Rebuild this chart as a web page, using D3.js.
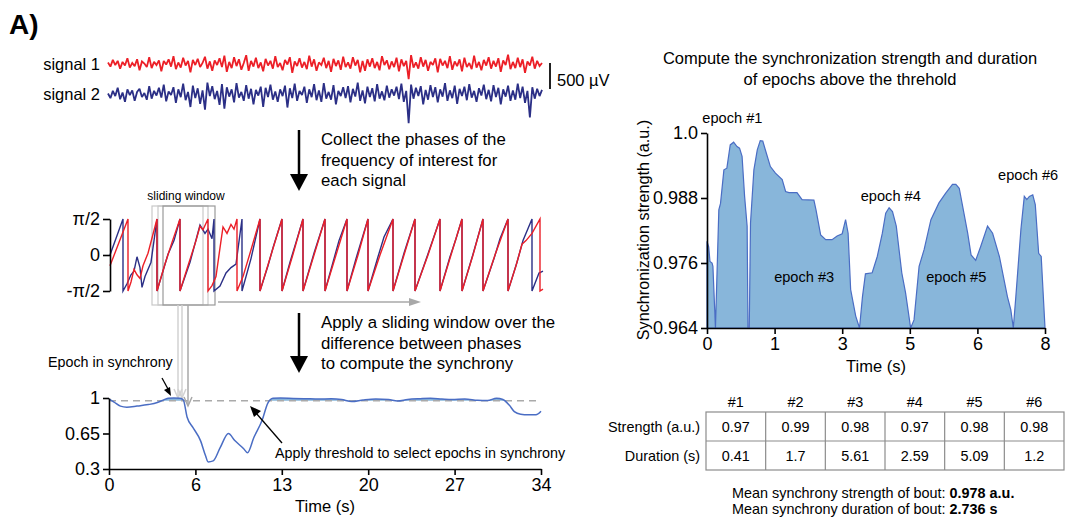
<!DOCTYPE html>
<html>
<head>
<meta charset="utf-8">
<script src="https://cdn.jsdelivr.net/npm/d3@7"></script>
<style>
  body { margin: 0; background: #fff; }
  svg { font-family: "Liberation Sans", Arial, sans-serif; }
</style>
</head>
<body>
<script>
// raw traces (µV), one sample per step
const signal1 = [
  30,-50,80,-20,60,-90,40,-30,110,-70,20,-40,90,-120,50,10,-60,130,-80,40,
  -20,70,-140,60,-10,90,-50,150,-100,30,-70,120,-30,60,-160,80,-20,100,-60,20,
  140,-90,50,-130,70,-20,110,-60,160,-150,40,-80,130,-40,90,-110,20,170,-130,60,
  -50,120,-80,30,-140,100,-30,60,-90,150,-60,20,-120,80,-10,130,-170,50,-40,110,
  -70,40,-100,160,-50,90,-130,30,-20,120,-80,60,-150,100,-40,70,-110,140,-60,30,
  -90,130,-30,80,-160,60,-130,90,-50,110,-80,40,-120,150,-20,70,-100,50,-60,120,
  -140,90,-40,60,-290,170,-70,30,-90,130,-50,80,-130,40,-20,110,-160,100,-30,60,
  -80,150,-110,50,-40,90,-140,120,-60,20,-100,160,-70,40,-120,80,-30,130,-90,60,
  -50,110,-150,70,-20,180,-100,40,-80,120,-60,90,-170,50,-30,140,-90,60,-40,20
];
const signal2 = [
  10,-80,60,-40,120,-100,30,-150,90,-20,70,-130,40,100,-60,20,-110,150,-90,60,
  -30,120,-70,180,-140,50,-20,130,-170,90,-60,200,-120,40,-250,160,-80,110,-190,70,
  -300,220,-40,150,-100,60,-210,190,-280,130,-50,90,-160,210,-70,40,-130,170,-90,100,
  -200,80,-30,140,-250,120,-60,180,-110,50,-150,90,-40,160,-260,110,-80,200,-130,60,
  -20,140,-170,90,-60,190,-120,70,-150,210,-90,40,-110,170,-200,60,-40,130,-80,150,
  -160,100,-50,220,-130,70,-180,140,-60,110,-140,190,-90,50,-120,160,-70,90,-30,140,
  -100,200,-150,60,-560,180,-90,120,-40,150,-200,80,-110,170,-60,130,-160,90,-50,210,
  -130,70,-80,160,-190,100,-40,140,-120,190,-70,60,-150,110,-30,180,-100,80,-140,170,
  -60,120,-200,90,-50,160,-130,70,-110,200,-80,140,-170,60,-450,130,-90,100,-40,80
];

// instantaneous phase, [sample, phase in units of pi/2]
const phase1 = [[0,-0.3],[18,1],[18,-1],[21,-0.75],[24,-0.4],[27,-0.55],[30,-0.65],[33,-0.3],[38,0.05],[47,1],[47,-1],
  [55,-0.25],[62,0.35],[70,1],[70,-1],[78,-0.3],[86,0.4],[90,0.8],[93,0.7],[98,1],[98,-1],[102,-0.85],[106,-0.6],
  [110,0.2],[113,0.78],[117,0.6],[121,0.85],[124,0.72],[127,1],[127,-1],[133,-0.6],[140,0.05],[150,1],[150,-1],
  [161,0],[172,1],[172,-1],[183,0.02],[193,1],[193,-1],[204,0],[215,1],[215,-1],[226,0],[237,1],[237,-1],[248,0],
  [258,1],[258,-1],[270,0],[283,1],[283,-1],[294,0],[305,1],[305,-1],[318,0],[330,1],[330,-1],[341,0],[352,1],[352,-1],
  [363,0],[373,1],[373,-1],[385,0],[398,1],[398,-1],[406,-0.3],[412,0.3],[416,0.4],[422,0.6],[430,1],[430,-1],[433,-0.95]];
const phase2 = [[0,0],[13,1],[13,-1],[17,-0.8],[21,-0.55],[24,-0.45],[27,-0.05],[30,-0.35],[32,-0.9],[35,-0.6],[41,-0.2],
  [47,1],[47,-1],[58,0.02],[64,0.4],[70,1],[70,-1],[80,-0.2],[90,0.83],[95,0.6],[98,0.72],[102,0.45],[104,1],[104,-1],
  [110,-0.86],[116,-0.5],[121,-0.35],[126,-0.25],[132,1],[132,-1],[141,-0.1],[150,1],[150,-1],[158,-0.3],[163,0.2],
  [172,1],[172,-1],[180,-0.2],[186,0.35],[193,1],[193,-1],[204,0.05],[215,1],[215,-1],[224,-0.1],[229,0.4],[237,1],
  [237,-1],[246,-0.1],[258,1],[258,-1],[268,-0.05],[274,0.5],[283,1],[283,-1],[294,0.05],[305,1],[305,-1],[317,-0.05],
  [330,1],[330,-1],[340,-0.05],[346,0.45],[352,1],[352,-1],[363,0.02],[373,1],[373,-1],[384,-0.1],[390,0.45],[398,1],
  [398,-1],[407,-0.2],[413,0.4],[422,1],[422,-1],[429,-0.5],[433,-0.45]];
const windows = [[42, 93], [48, 98], [53, 105]];

// synchrony over the whole bout
const boutTime = [0,0.4,0.9,1.4,2.2,3.1,3.8,4.2,4.65,5.1,5.6,5.85,6.15,6.6,7.2,7.6,7.8,8.2,8.75,9.4,
  9.9,10.6,10.9,11.4,12.05,12.5,12.9,13.5,14.5,15.5,16.5,17.5,18.3,19.1,20,21,22,22.7,23.5,24.5,
  25.3,26.2,27,28,29,29.8,30.5,31,31.5,31.9,32.4,33,33.6,34];
const boutSync = [0.99,0.96,0.92,0.91,0.92,0.935,0.955,0.975,0.997,1.0,0.998,0.98,0.81,0.71,0.58,0.43,0.37,0.38,0.51,0.65,
  0.58,0.5,0.46,0.61,0.78,0.95,0.998,1.0,0.996,0.993,0.99,0.992,0.985,0.965,0.98,0.99,0.985,0.97,0.985,0.993,
  0.997,0.99,0.985,0.99,0.978,0.975,0.998,0.985,0.93,0.866,0.84,0.835,0.835,0.87];
const threshold = 0.972;
const boutTicks = [0, 6.8, 13.6, 20.4, 27.2, 34];
const boutTickLabels = ["0", "6", "13", "20", "27", "34"];

// zoom on the epochs above threshold
const epochTime = [0,0.04,0.07,0.12,0.14,0.2,0.28,0.32,0.4,0.47,0.55,0.63,0.71,0.77,0.83,0.89,0.95,0.97,1.0,1.03,
  1.11,1.19,1.26,1.32,1.38,1.5,1.62,1.78,1.86,1.94,2.13,2.25,2.53,2.58,2.69,2.81,2.96,3.08,3.2,3.28,
  3.34,3.4,3.52,3.61,3.68,3.75,3.91,4.03,4.15,4.23,4.31,4.39,4.48,4.61,4.7,4.82,4.9,5.02,5.14,5.3,
  5.49,5.65,5.81,5.89,5.97,6.05,6.17,6.25,6.36,6.48,6.64,6.76,6.92,7.11,7.19,7.25,7.31,7.43,7.51,7.57,
  7.63,7.71,7.77,7.85,7.91,8.0];
const epochSync = [0.98,0.979,0.9763,0.976,0.9754,0.964,0.9858,0.987,0.9932,0.9935,0.9978,0.9983,0.9975,0.9972,0.9957,0.9883,0.9828,0.964,0.964,0.9834,
  0.9932,0.9969,0.9986,0.9985,0.9969,0.9938,0.9926,0.9914,0.9892,0.989,0.989,0.9877,0.9876,0.9858,0.9812,0.9803,0.9803,0.981,0.9814,0.984,
  0.9815,0.9711,0.9662,0.964,0.9698,0.974,0.9742,0.9772,0.9815,0.9852,0.9862,0.9855,0.9828,0.9742,0.9705,0.964,0.9655,0.9754,0.9785,0.984,
  0.9871,0.9889,0.9905,0.9905,0.9898,0.9865,0.9815,0.9775,0.9765,0.9791,0.9828,0.9815,0.9772,0.9698,0.9674,0.964,0.9698,0.9822,0.9883,0.9877,
  0.9883,0.9886,0.9868,0.9778,0.9772,0.964];
const epochTicks = [0, 1.6, 3.2, 4.8, 6.4, 8];
const epochTickLabels = ["0", "1", "3", "5", "6", "8"];
const syncTicks = [0.964, 0.976, 0.988, 1.0];
const syncTickLabels = ["0.964", "0.976", "0.988", "1.0"];
const epochLabels = [
  {name: "epoch #1", t: 0.6, v: 1.0018},
  {name: "epoch #3", t: 2.3, v: 0.9725},
  {name: "epoch #4", t: 4.35, v: 0.9875},
  {name: "epoch #5", t: 5.9, v: 0.9725},
  {name: "epoch #6", t: 7.6, v: 0.9914}
];

// table
const epochIds = ["#1", "#2", "#3", "#4", "#5", "#6"];
const strength = ["0.97", "0.99", "0.98", "0.97", "0.98", "0.98"];
const duration = ["0.41", "1.7", "5.61", "2.59", "5.09", "1.2"];

const RED = "#ec1f27", NAVY = "#2b2f86", LINE = "#4a6dc4", FILL = "#88b6da";

const svg = d3.select("body").append("svg")
  .attr("width", 1068).attr("height", 524);

function arrowHead(g, x, y, dir, w, h, color) {
  // dir: "down" or "right", tip at (x, y)
  const pts = dir === "down"
    ? [[x - w/2, y - h], [x + w/2, y - h], [x, y]]
    : [[x - h, y - w/2], [x - h, y + w/2], [x, y]];
  g.append("path").attr("d", "M" + pts.join("L") + "Z").attr("fill", color);
}

svg.append("text").attr("x", 9).attr("y", 34)
  .attr("font-size", 28).attr("font-weight", "bold").text("A)");

// ---- raw signals
const sigX = d3.scaleLinear([0, signal1.length - 1], [108, 542]);
const sigY = d3.scaleLinear([-500, 500], [26, -26]);
const sigLine = d3.line().x((d, i) => sigX(i)).y(d => sigY(d));
[[signal1, 64, RED, "signal 1"], [signal2, 94, NAVY, "signal 2"]].forEach(([s, cy, c, lab]) => {
  const g = svg.append("g").attr("transform", `translate(0,${cy})`);
  g.append("path").datum(s).attr("d", sigLine)
    .attr("fill", "none").attr("stroke", c).attr("stroke-width", 1.8)
    .attr("stroke-linejoin", "miter").attr("stroke-miterlimit", 2);
  svg.append("text").attr("x", 100).attr("y", cy + 6).attr("text-anchor", "end")
    .attr("font-size", 16.5).text(lab);
});
svg.append("line").attr("x1", 550).attr("x2", 550)
  .attr("y1", 63).attr("y2", 63 + sigY(0) - sigY(500))
  .attr("stroke", "#222").attr("stroke-width", 2);
svg.append("text").attr("x", 557).attr("y", 86).attr("font-size", 16.5).text("500 µV");

// ---- big arrows + captions
function bigArrow(y1, y2) {
  svg.append("line").attr("x1", 299).attr("x2", 299).attr("y1", y1).attr("y2", y2 - 14)
    .attr("stroke", "#000").attr("stroke-width", 2.5);
  arrowHead(svg, 299, y2, "down", 18, 17, "#000");
}
bigArrow(130, 191);
bigArrow(313, 373);
function caption(lines, y0) {
  const t = svg.append("text").attr("font-size", 16.8);
  lines.forEach((l, i) => t.append("tspan").attr("x", 321).attr("y", y0 + i * 20.5).text(l));
}
caption(["Collect the phases of the", "frequency of interest for", "each signal"], 145);
caption(["Apply a sliding window over the", "difference between phases", "to compute the synchrony"], 328);

// ---- phases
const phX = d3.scaleLinear([0, 433], [110, 543]);
const phY = d3.scaleLinear([-1, 1], [291, 219]);
const phLine = d3.line().x(d => phX(d[0])).y(d => phY(d[1]));

windows.forEach((w, i) => {
  svg.append("rect").attr("x", phX(w[0])).attr("y", 206)
    .attr("width", phX(w[1]) - phX(w[0])).attr("height", 99)
    .attr("fill", "none").attr("stroke", i === 2 ? "#9a9a9a" : "#c8c8c8").attr("stroke-width", 1.2);
});
svg.append("text").attr("x", 186).attr("y", 200).attr("text-anchor", "middle")
  .attr("font-size", 12).text("sliding window");

svg.append("path").datum(phase2).attr("d", phLine)
  .attr("fill", "none").attr("stroke", NAVY).attr("stroke-width", 1.4);
svg.append("path").datum(phase1).attr("d", phLine)
  .attr("fill", "none").attr("stroke", RED).attr("stroke-width", 1.4);

svg.append("g").attr("transform", "translate(110,0)")
  .call(d3.axisLeft(phY).tickValues([-1, 0, 1]).tickSize(7).tickSizeOuter(0)
    .tickFormat(d => d === 1 ? "π/2" : d === 0 ? "0" : "-π/2"));

// horizontal grey arrow
svg.append("line").attr("x1", 218).attr("x2", 410).attr("y1", 302).attr("y2", 302)
  .attr("stroke", "#a8a8a8").attr("stroke-width", 1.5);
arrowHead(svg, 421, 302, "right", 8, 12, "#a8a8a8");

// window arrows down to the synchrony trace
[[178, 398, "#d2d2d2"], [182, 398, "#d2d2d2"], [188, 406, "#a8a8a8"]].forEach(([x, y2, c]) => {
  svg.append("line").attr("x1", x).attr("x2", x).attr("y1", 305).attr("y2", y2)
    .attr("stroke", c).attr("stroke-width", 1.5);
  svg.append("path").attr("d", `M${x - 4},${y2 - 9}L${x},${y2}L${x + 4},${y2 - 9}`)
    .attr("fill", "none").attr("stroke", c).attr("stroke-width", 1.5);
});

// ---- synchrony over the bout
const bX = d3.scaleLinear([0, 34], [109, 541]);
const bY = d3.scaleLinear([0.3, 1], [469, 398]);
const bout = boutTime.map((t, i) => ({t, v: boutSync[i]}));

svg.append("path").datum(bout)
  .attr("d", d3.area().x(d => bX(d.t)).y0(bY(threshold)).y1(d => bY(Math.max(d.v, threshold))))
  .attr("fill", FILL);
svg.append("line").attr("x1", bX(0)).attr("x2", bX(34))
  .attr("y1", bY(threshold)).attr("y2", bY(threshold))
  .attr("stroke", "#aaa").attr("stroke-width", 1.5).attr("stroke-dasharray", "7,5");
svg.append("path").datum(bout)
  .attr("d", d3.line().curve(d3.curveMonotoneX).x(d => bX(d.t)).y(d => bY(d.v)))
  .attr("fill", "none").attr("stroke", LINE).attr("stroke-width", 1.5);

svg.append("g").attr("transform", "translate(109,0)")
  .call(d3.axisLeft(bY).tickValues([0.3, 0.65, 1]).tickSize(6).tickSizeOuter(0)
    .tickFormat(d => d === 1 ? "1" : String(d)));
svg.append("g").attr("transform", "translate(0,469)")
  .call(d3.axisBottom(bX).tickValues(boutTicks).tickSize(6).tickSizeOuter(0)
    .tickFormat((d, i) => boutTickLabels[i]));
svg.append("text").attr("x", 325).attr("y", 512).attr("text-anchor", "middle")
  .attr("font-size", 16.5).text("Time (s)");

svg.append("text").attr("x", 48).attr("y", 367).attr("font-size", 14.3).text("Epoch in synchrony");
svg.append("line").attr("x1", 162).attr("y1", 378).attr("x2", 168).attr("y2", 389)
  .attr("stroke", "#000").attr("stroke-width", 1.3);
svg.append("path").attr("d", "M164,390L171,396L170,387Z").attr("fill", "#000");

svg.append("text").attr("x", 275).attr("y", 458).attr("font-size", 14.3)
  .text("Apply threshold to select epochs in synchrony");
svg.append("line").attr("x1", 282).attr("y1", 443).attr("x2", 256).attr("y2", 413)
  .attr("stroke", "#000").attr("stroke-width", 1.3);
svg.append("path").attr("d", "M250,406L261,411L254,417Z").attr("fill", "#000");

// ---- right panel
const title = svg.append("text").attr("text-anchor", "middle").attr("font-size", 16.5);
title.append("tspan").attr("x", 850).attr("y", 64).text("Compute the synchronization strength and duration");
title.append("tspan").attr("x", 850).attr("y", 85).text("of epochs above the threhold");

const rX = d3.scaleLinear([0, 8], [707, 1045]);
const rY = d3.scaleLinear([0.964, 1.0], [328, 133]);
const epochs = epochTime.map((t, i) => ({t, v: epochSync[i]}));

svg.append("path").datum(epochs)
  .attr("d", d3.area().x(d => rX(d.t)).y0(rY(0.964)).y1(d => rY(d.v)))
  .attr("fill", FILL).attr("stroke", LINE).attr("stroke-width", 1.2);

svg.append("g").attr("transform", "translate(707,0)")
  .call(d3.axisLeft(rY).tickValues(syncTicks).tickSize(6).tickSizeOuter(0)
    .tickFormat((d, i) => syncTickLabels[i]));
svg.append("g").attr("transform", "translate(0,328)")
  .call(d3.axisBottom(rX).tickValues(epochTicks).tickSize(6).tickSizeOuter(0)
    .tickFormat((d, i) => epochTickLabels[i]));
svg.append("text").attr("transform", "translate(649,230) rotate(-90)")
  .attr("text-anchor", "middle").attr("font-size", 16.2).text("Synchronization strength (a.u.)");
svg.append("text").attr("x", 876).attr("y", 372).attr("text-anchor", "middle")
  .attr("font-size", 16.5).text("Time (s)");

svg.selectAll("text.epoch").data(epochLabels).join("text")
  .attr("class", "epoch")
  .attr("x", d => rX(d.t)).attr("y", d => rY(d.v))
  .attr("text-anchor", "middle").attr("font-size", 14.6).text(d => d.name);

// axis styling
svg.selectAll(".domain, .tick line").attr("stroke", "#000").attr("stroke-width", 1.6);
svg.selectAll(".tick text").attr("font-size", 18).attr("fill", "#000")
  .attr("font-family", "Liberation Sans, Arial, sans-serif");

// ---- table
const colW = (1064 - 706) / 6;
const tbl = svg.append("g");
tbl.append("rect").attr("x", 706).attr("y", 412).attr("width", 1064 - 706).attr("height", 58)
  .attr("fill", "none").attr("stroke", "#8c8c8c").attr("stroke-width", 1.2);
tbl.append("line").attr("x1", 706).attr("x2", 1064).attr("y1", 441).attr("y2", 441)
  .attr("stroke", "#8c8c8c").attr("stroke-width", 1.2);
epochIds.forEach((id, i) => {
  const cx = 706 + colW * (i + 0.5);
  if (i > 0) tbl.append("line").attr("x1", 706 + colW * i).attr("x2", 706 + colW * i)
    .attr("y1", 412).attr("y2", 470).attr("stroke", "#8c8c8c").attr("stroke-width", 1.2);
  tbl.append("text").attr("x", cx).attr("y", 407).attr("text-anchor", "middle").attr("font-size", 14.4).text(id);
  tbl.append("text").attr("x", cx).attr("y", 432).attr("text-anchor", "middle").attr("font-size", 14.4).text(strength[i]);
  tbl.append("text").attr("x", cx).attr("y", 461).attr("text-anchor", "middle").attr("font-size", 14.4).text(duration[i]);
});
tbl.append("text").attr("x", 700).attr("y", 432).attr("text-anchor", "end").attr("font-size", 14.4).text("Strength (a.u.)");
tbl.append("text").attr("x", 700).attr("y", 461).attr("text-anchor", "end").attr("font-size", 14.4).text("Duration (s)");

const m1 = svg.append("text").attr("x", 732).attr("y", 498).attr("font-size", 14.4);
m1.append("tspan").text("Mean synchrony strength of bout: ");
m1.append("tspan").attr("font-weight", "bold").text("0.978 a.u.");
const m2 = svg.append("text").attr("x", 732).attr("y", 514).attr("font-size", 14.4);
m2.append("tspan").text("Mean synchrony duration of bout: ");
m2.append("tspan").attr("font-weight", "bold").text("2.736 s");
</script>
</body>
</html>
